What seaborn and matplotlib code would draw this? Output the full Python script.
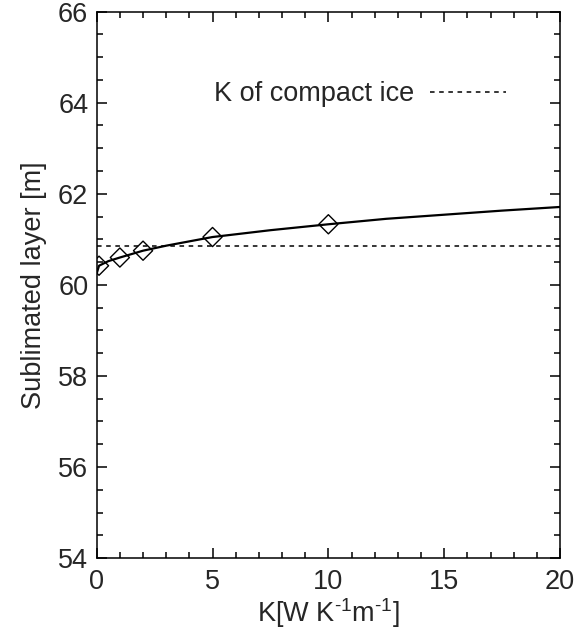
import matplotlib
matplotlib.use("Agg")
from matplotlib import pyplot as plt, ticker
import seaborn as sns
import pandas as pd

# fitted curve
curve_k = [0, 0.1, 0.5, 1, 2, 3, 5, 7.5, 10, 12.5, 15, 17.5, 20]
curve_layer = [60.25, 60.42, 60.52, 60.60, 60.75, 60.86, 61.05, 61.20, 61.33, 61.45, 61.54, 61.63, 61.71]

# model runs (diamonds)
point_k = [0.1, 1, 2, 5, 10]
point_layer = [60.42, 60.60, 60.75, 61.05, 61.33]

compact_ice_layer = 60.86

curve_df = pd.DataFrame({"K": curve_k, "layer": curve_layer})
point_df = pd.DataFrame({"K": point_k, "layer": point_layer})

sns.set_style("ticks")
plt.rcParams["font.family"] = ["Liberation Sans", "DejaVu Sans"]
plt.rcParams["mathtext.fontset"] = "custom"
plt.rcParams["mathtext.rm"] = "Liberation Sans"
plt.rcParams["mathtext.it"] = "Liberation Sans"

fig = plt.figure(figsize=(5.77, 6.43), dpi=100)
ax = fig.add_axes([0.1676, 0.132, 0.803, 0.85])

sns.lineplot(data=curve_df, x="K", y="layer", color="black", linewidth=1.6, ax=ax)
sns.scatterplot(
    data=point_df, x="K", y="layer", marker="D", s=95,
    facecolor="none", edgecolor="black", linewidth=1.0, ax=ax, zorder=3,
)
ax.axhline(compact_ice_layer, color="black", linestyle=(0, (3, 3)), linewidth=1.1,
           label="K of compact ice")

ax.set_xlim(0, 20)
ax.set_ylim(54, 66)
ax.xaxis.set_major_locator(ticker.MultipleLocator(5))
ax.xaxis.set_minor_locator(ticker.MultipleLocator(1))
ax.yaxis.set_major_locator(ticker.MultipleLocator(2))
ax.yaxis.set_minor_locator(ticker.MultipleLocator(0.5))
ax.tick_params(which="both", direction="in", top=True, right=True, width=1.1, color="black")
ax.tick_params(which="major", length=7, labelsize=19.5)
ax.tick_params(which="minor", length=4.5)
ax.tick_params(axis="x", pad=8)
ax.tick_params(axis="y", pad=6)
for sp in ax.spines.values():
    sp.set_linewidth(1.1)
    sp.set_color("black")

ax.set_xlabel(r"K[W K$^{\text{-1}}$m$^{\text{-1}}$]", fontsize=19.5, labelpad=1)
ax.set_ylabel("Sublimated layer [m]", fontsize=19.5, labelpad=8)

ax.legend(
    loc="center", bbox_to_anchor=(0.568, 0.849), frameon=False, markerfirst=False,
    handlelength=2.8, handletextpad=0.6, fontsize=19.5,
)

plt.savefig("out.png", dpi=100)
